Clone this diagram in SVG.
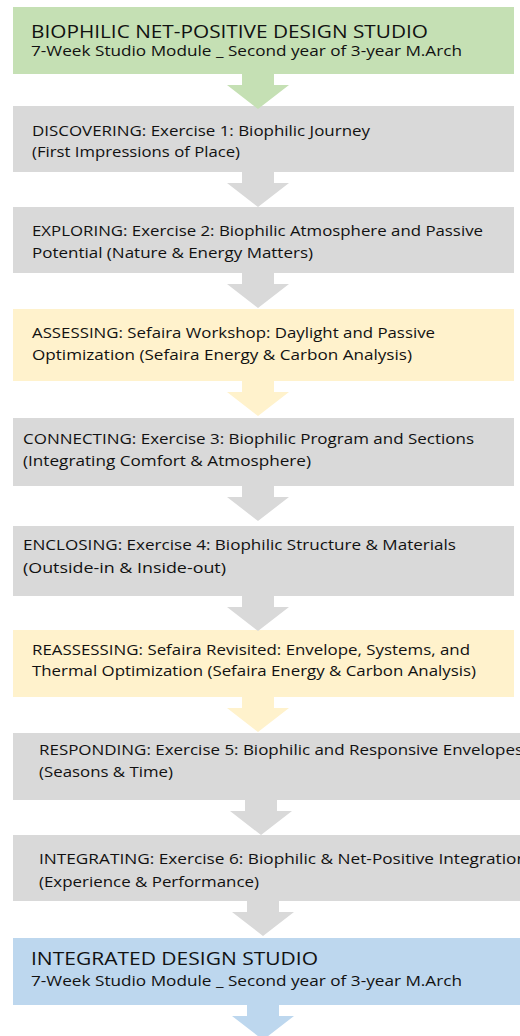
<svg xmlns="http://www.w3.org/2000/svg" width="520" height="1036" viewBox="0 0 520 1036">
<style>
.g{fill:#C5E0B4}.k{fill:#D9D9D9}.y{fill:#FFF2CC}.b{fill:#BDD7EE}
text{font-family:"Open Sans","Noto Sans","Liberation Sans",sans-serif;fill:#111111}
.t{font-size:18.5px}.s{font-size:14px}.m{font-size:14.5px}
</style>
<defs>
<path id="arr" d="M-16,0 H16 V11 H31 L0,35 L-31,11 H-16 Z"/>
</defs>
<rect width="520" height="1036" fill="#ffffff"/>
<g id="n0"><rect class="g" x="13" y="7" width="501" height="67"/>
<text class="t" x="31" y="38" textLength="397" lengthAdjust="spacingAndGlyphs">BIOPHILIC NET-POSITIVE DESIGN STUDIO</text>
<text class="s" x="31" y="56" textLength="431" lengthAdjust="spacingAndGlyphs">7-Week Studio Module _ Second year of 3-year M.Arch</text></g>
<g id="n1"><rect class="k" x="13" y="106" width="501" height="66"/>
<text class="m" x="32" y="136" textLength="338" lengthAdjust="spacingAndGlyphs">DISCOVERING: Exercise 1: Biophilic Journey</text>
<text class="m" x="32" y="157" textLength="208" lengthAdjust="spacingAndGlyphs">(First Impressions of Place)</text></g>
<g id="n2"><rect class="k" x="13" y="207" width="501" height="66"/>
<text class="m" x="32" y="236" textLength="451" lengthAdjust="spacingAndGlyphs">EXPLORING: Exercise 2: Biophilic Atmosphere and Passive</text>
<text class="m" x="32" y="258" textLength="281" lengthAdjust="spacingAndGlyphs">Potential (Nature &amp; Energy Matters)</text></g>
<g id="n3"><rect class="y" x="13" y="309" width="501" height="72"/>
<text class="m" x="32" y="338" textLength="403" lengthAdjust="spacingAndGlyphs">ASSESSING: Sefaira Workshop: Daylight and Passive</text>
<text class="m" x="32" y="360" textLength="380" lengthAdjust="spacingAndGlyphs">Optimization (Sefaira Energy &amp; Carbon Analysis)</text></g>
<g id="n4"><rect class="k" x="13" y="418" width="501" height="68"/>
<text class="m" x="23" y="444" textLength="451" lengthAdjust="spacingAndGlyphs">CONNECTING: Exercise 3: Biophilic Program and Sections</text>
<text class="m" x="23" y="466" textLength="288" lengthAdjust="spacingAndGlyphs">(Integrating Comfort &amp; Atmosphere)</text></g>
<g id="n5"><rect class="k" x="13" y="526" width="501" height="70"/>
<text class="m" x="23" y="550" textLength="433" lengthAdjust="spacingAndGlyphs">ENCLOSING: Exercise 4: Biophilic Structure &amp; Materials</text>
<text class="m" x="23" y="573" textLength="203" lengthAdjust="spacingAndGlyphs">(Outside-in &amp; Inside-out)</text></g>
<g id="n6"><rect class="y" x="13" y="630" width="501" height="67"/>
<text class="m" x="32" y="655" textLength="438" lengthAdjust="spacingAndGlyphs">REASSESSING: Sefaira Revisited: Envelope, Systems, and</text>
<text class="m" x="32" y="676" textLength="444" lengthAdjust="spacingAndGlyphs">Thermal Optimization (Sefaira Energy &amp; Carbon Analysis)</text></g>
<g id="n7"><rect class="k" x="13" y="733" width="507" height="67"/>
<text class="m" x="39" y="755" textLength="484" lengthAdjust="spacingAndGlyphs">RESPONDING: Exercise 5: Biophilic and Responsive Envelopes</text>
<text class="m" x="39" y="777" textLength="134" lengthAdjust="spacingAndGlyphs">(Seasons &amp; Time)</text></g>
<g id="n8"><rect class="k" x="13" y="835" width="507" height="66"/>
<text class="m" x="39" y="864" textLength="488" lengthAdjust="spacingAndGlyphs">INTEGRATING: Exercise 6: Biophilic &amp; Net-Positive Integration</text>
<text class="m" x="39" y="887" textLength="220" lengthAdjust="spacingAndGlyphs">(Experience &amp; Performance)</text></g>
<g id="n9"><rect class="b" x="13" y="938" width="507" height="67"/>
<text class="t" x="31" y="965" textLength="287" lengthAdjust="spacingAndGlyphs">INTEGRATED DESIGN STUDIO</text>
<text class="s" x="31" y="986" textLength="431" lengthAdjust="spacingAndGlyphs">7-Week Studio Module _ Second year of 3-year M.Arch</text></g>
<g id="connectors">
<use href="#arr" class="g" x="258" y="74"/>
<use href="#arr" class="k" x="258" y="172"/>
<use href="#arr" class="k" x="258" y="273"/>
<use href="#arr" class="y" x="258" y="381"/>
<use href="#arr" class="k" x="258" y="486"/>
<use href="#arr" class="k" x="258" y="596"/>
<use href="#arr" class="y" x="258" y="697"/>
<use href="#arr" class="k" x="261" y="800"/>
<use href="#arr" class="k" x="263" y="901"/>
<use href="#arr" class="b" x="263" y="1005"/>
</g>
</svg>
